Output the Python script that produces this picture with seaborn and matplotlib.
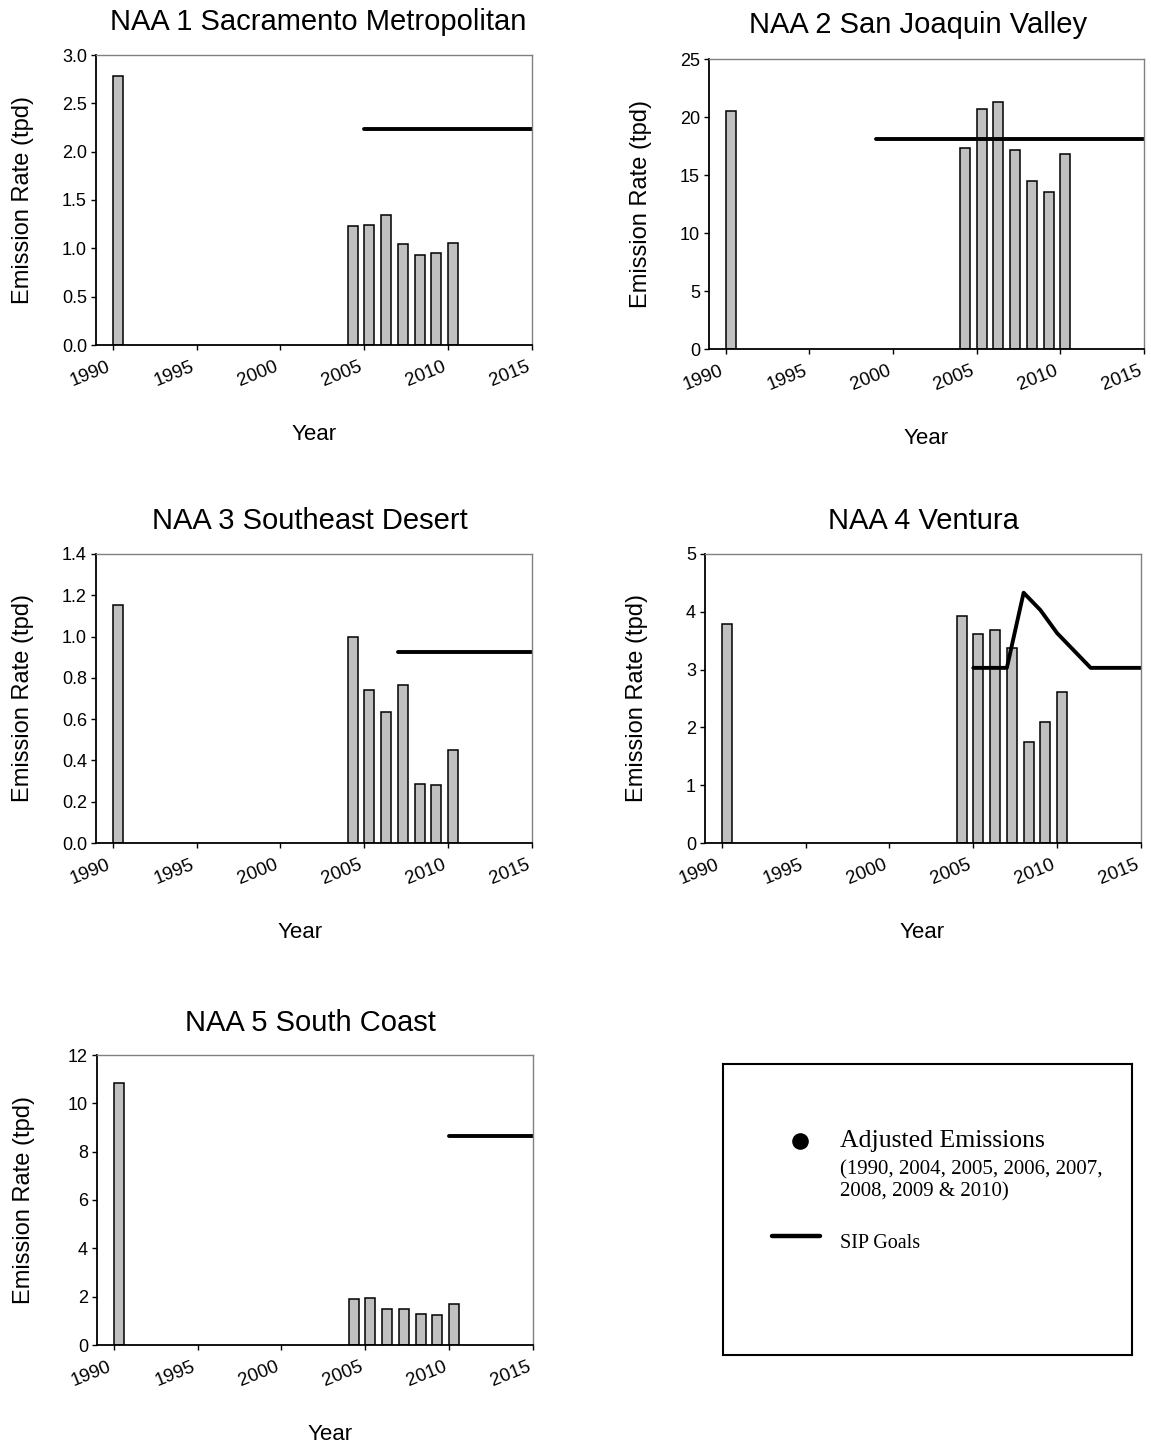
import numpy as np
import matplotlib
matplotlib.use("Agg")
import matplotlib.pyplot as plt
import seaborn as sns

# ==========================================
# data
# ==========================================
years = [1990, 2004, 2005, 2006, 2007, 2008, 2009, 2010]

naa1_vals = [2.78, 1.23, 1.24, 1.35, 1.05, 0.93, 0.95, 1.06]
naa2_vals = [20.5, 17.3, 20.7, 21.3, 17.15, 14.5, 13.5, 16.8]
naa3_vals = [1.153, 0.997, 0.74, 0.634, 0.763, 0.284, 0.281, 0.452]
naa4_vals = [3.79, 3.93, 3.62, 3.69, 3.38, 1.75, 2.09, 2.61]
naa5_vals = [10.83, 1.92, 1.96, 1.48, 1.48, 1.28, 1.23, 1.71]

sip1_years, sip1_vals = [2005, 2015], [2.23, 2.23]
sip2_years, sip2_vals = [1999, 2015], [18.1, 18.1]
sip3_years, sip3_vals = [2007, 2015], [0.924, 0.924]
sip4_years = [2005, 2007, 2008, 2009, 2010, 2012, 2015]
sip4_vals = [3.03, 3.03, 4.33, 4.03, 3.63, 3.03, 3.03]
sip5_years, sip5_vals = [2010, 2015], [8.66, 8.66]

titles = ['NAA 1 Sacramento Metropolitan', 'NAA 2 San Joaquin Valley',
          'NAA 3 Southeast Desert', 'NAA 4 Ventura', 'NAA 5 South Coast']
ymax = [3.0, 25, 1.4, 5, 12]
ystep = [0.5, 5, 0.2, 1, 2]
yfmt = ['{:.1f}', '{:.0f}', '{:.1f}', '{:.0f}', '{:.0f}']
xticks = [1990, 1995, 2000, 2005, 2010, 2015]

legend_main = 'Adjusted Emissions'
legend_sub = '(1990, 2004, 2005, 2006, 2007,\n2008, 2009 & 2010)'
legend_sip = 'SIP Goals'

# ==========================================
# style
# ==========================================
sns.set_style("ticks")
plt.rcParams['font.family'] = ['Liberation Sans', 'DejaVu Sans']
for k in ['text.color', 'axes.labelcolor', 'xtick.color', 'ytick.color']:
    plt.rcParams[k] = 'black'

W, H = 1151, 1446
fig = plt.figure(figsize=(W / 100, H / 100), dpi=100)

def px_axes(left, top, right, bottom):
    return fig.add_axes([left / W, 1 - bottom / H,
                         (right - left) / W, (bottom - top) / H])

# pixel boxes (left, top, right, bottom)
boxes = [(96, 55, 532, 345), (709, 59, 1144, 349),
         (96, 554, 532, 843), (705, 554, 1141, 843),
         (97, 1055, 533, 1345)]
title_x = [0.51, 0.48, 0.49, 0.5, 0.49]
title_pad = [18, 19, 18, 18, 17]
year_x = [0.5, 0.5, 0.468, 0.498, 0.535]

all_vals = [naa1_vals, naa2_vals, naa3_vals, naa4_vals, naa5_vals]
all_sip = [(sip1_years, sip1_vals), (sip2_years, sip2_vals),
           (sip3_years, sip3_vals), (sip4_years, sip4_vals),
           (sip5_years, sip5_vals)]

for i in range(5):
    ax = px_axes(*boxes[i])
    # bars start at the year, 0.6 yr wide
    sns.barplot(x=np.array(years) + 0.3, y=all_vals[i], native_scale=True,
                width=0.6, color='#c0c0c0', edgecolor='black',
                linewidth=1.1, errorbar=None, saturation=1, ax=ax)
    sx, sv = all_sip[i]
    sns.lineplot(x=sx, y=sv, color='black', linewidth=2.8, ax=ax)

    ax.set_xlim(1989, 2015)
    ax.set_ylim(0, ymax[i])
    ax.set_xticks(xticks)
    ax.set_xticklabels([str(t) for t in xticks], rotation=22,
                       ha='right', va='top', fontsize=13.5)
    yt = np.arange(0, ymax[i] + 1e-9, ystep[i])
    ax.set_yticks(yt)
    ax.set_yticklabels([yfmt[i].format(v) for v in yt], fontsize=13)
    ax.tick_params(axis='both', length=3.5, width=1, direction='out',
                   color='black', pad=3)
    ax.tick_params(axis='x', pad=6)
    for s in ['left', 'bottom']:
        ax.spines[s].set_color('black')
        ax.spines[s].set_linewidth(1.3)
    for s in ['top', 'right']:
        ax.spines[s].set_visible(True)
        ax.spines[s].set_color('#808080')
        ax.spines[s].set_linewidth(1.0)

    ax.set_title(titles[i], fontsize=21, x=title_x[i], pad=title_pad[i])
    ax.set_ylabel('Emission Rate (tpd)', fontsize=17)
    ax.yaxis.set_label_coords(-0.142 if i % 2 == 0 else -0.131, 0.5)
    ax.set_xlabel('Year', fontsize=16)
    ax.xaxis.set_label_coords(year_x[i], -0.272)

# legend box
lax = px_axes(723, 1064, 1132, 1355)
lax.set_xlim(0, 1)
lax.set_ylim(0, 1)
lax.set_xticks([])
lax.set_yticks([])
for s in lax.spines.values():
    s.set_visible(True)
    s.set_color('black')
    s.set_linewidth(1.5)
serif = ['Liberation Serif', 'DejaVu Serif']
lax.scatter([0.188], [0.735], s=120, color='black')
lax.plot([0.12, 0.237], [0.41, 0.41], color='black', linewidth=3.2)
lax.text(0.286, 0.735, legend_main, fontsize=18.5, va='center', ha='left',
         family=serif)
lax.text(0.286, 0.668, legend_sub, fontsize=15, va='top', ha='left',
         linespacing=1.2, family=serif)
lax.text(0.286, 0.382, legend_sip, fontsize=14.5, va='center', ha='left',
         family=serif)

plt.savefig('out.png', dpi=100)
